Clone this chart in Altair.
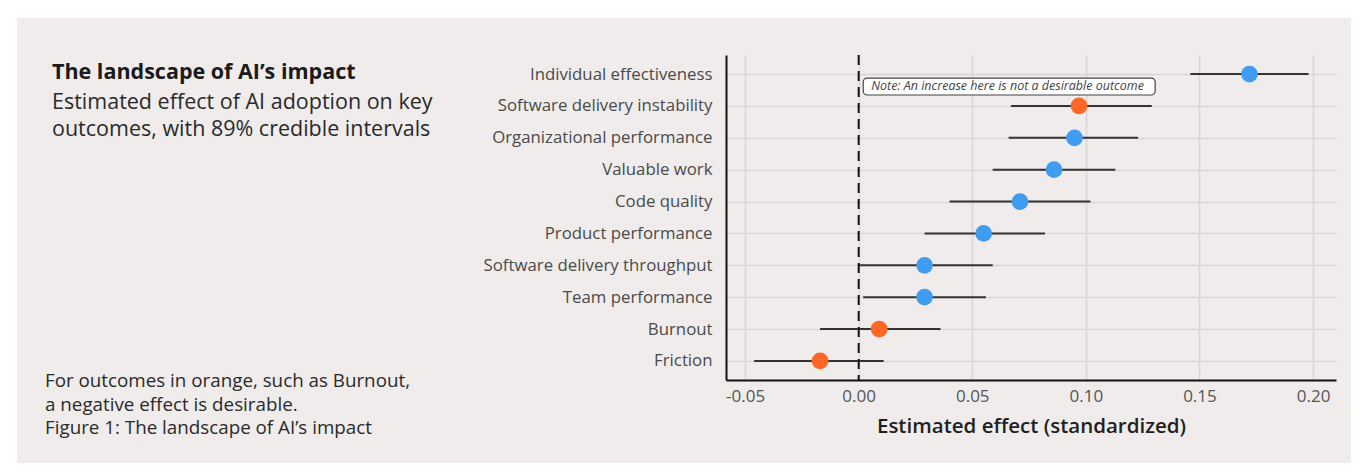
import altair as alt
import pandas as pd

# Outcomes, posterior means and 89% credible interval bounds
outcomes = [
    "Individual effectiveness",
    "Software delivery instability",
    "Organizational performance",
    "Valuable work",
    "Code quality",
    "Product performance",
    "Software delivery throughput",
    "Team performance",
    "Burnout",
    "Friction",
]
estimate = [0.172, 0.097, 0.095, 0.086, 0.071, 0.055, 0.029, 0.029, 0.009, -0.017]
lower = [0.146, 0.067, 0.066, 0.059, 0.040, 0.029, 0.000, 0.002, -0.017, -0.046]
upper = [0.198, 0.129, 0.123, 0.113, 0.102, 0.082, 0.059, 0.056, 0.036, 0.011]
# "higher" = an increase is good, "lower" = a decrease is good
desired = ["higher", "lower", "higher", "higher", "higher",
           "higher", "higher", "higher", "lower", "lower"]
x_ticks = [-0.05, 0.0, 0.05, 0.10, 0.15, 0.20]

note_text = "Note: An increase here is not a desirable outcome"
title_lines = ["The landscape of AI\u2019s impact"]
subtitle_lines = ["Estimated effect of AI adoption on key",
                  "outcomes, with 89% credible intervals"]
footer_lines = ["For outcomes in orange, such as Burnout,",
                "a negative effect is desirable.",
                "Figure 1: The landscape of AI\u2019s impact"]

df = pd.DataFrame({"outcome": outcomes, "estimate": estimate,
                   "lower": lower, "upper": upper, "desired": desired})

FONT = "Open Sans"
BG = "#efeceb"
W, H = 610, 325

x_scale = alt.Scale(domain=[-0.0584, 0.2101], nice=False, zero=False)
y_scale = alt.Scale(type="point", domain=outcomes, padding=0.6)

x_axis = alt.Axis(values=x_ticks, title="Estimated effect (standardized)",
                  labelExpr="replace(format(datum.value, '.2f'), '\u2212', '-')",
                  grid=True, ticks=False, labelPadding=8, titlePadding=12,
                  labelFontSize=17, labelColor="#555555",
                  titleFontSize=20.5, titleFontWeight=600, titleColor="#1f1f1f",
                  domainColor="#111111", domainWidth=2,
                  gridColor="#d8d5d4", gridWidth=1.5)
y_enc = alt.Y(
    "outcome:N", scale=y_scale, sort=outcomes,
    axis=alt.Axis(title=None, grid=True, ticks=False, labelPadding=14,
                  labelLimit=0, labelFontSize=16.8, labelColor="#4a4a4a",
                  domainColor="#111111", domainWidth=2,
                  gridColor="#d8d5d4", gridWidth=1.5),
)

base = alt.Chart(df)

intervals = base.mark_rule(color="#333333", strokeWidth=2).encode(
    x=alt.X("lower:Q", scale=x_scale, axis=x_axis), x2="upper:Q", y=y_enc
)

points = base.mark_circle(size=280, opacity=1).encode(
    x=alt.X("estimate:Q", scale=x_scale, axis=x_axis), y=y_enc,
    color=alt.Color("desired:N",
                    scale=alt.Scale(domain=["higher", "lower"],
                                    range=["#3f9cf1", "#ff6726"]),
                    legend=None),
)

zero_line = alt.Chart(df.head(1)).mark_rule(
    color="#111111", strokeWidth=2, strokeDash=[10, 6]
).encode(x=alt.datum(0.0))

# Annotation box between the first two rows
note_box = alt.Chart(df.head(1)).mark_rect(
    fill="white", stroke="#444444", strokeWidth=1.2, cornerRadius=4,
    yOffset=4, y2Offset=-11
).encode(
    x=alt.datum(0.002), x2=alt.datum(0.1305),
    y=alt.datum(outcomes[0]), y2=alt.datum(outcomes[1]),
)
note_label = alt.Chart(df.head(1)).mark_text(
    text=note_text, align="left", baseline="middle", fontStyle="italic",
    fontSize=12.5, color="#444444", font=FONT, yOffset=12
).encode(x=alt.datum(0.0055), y=alt.datum(outcomes[0]))


def text_block(lines, x, y0, step, size, weight, color):
    layers = []
    for i, line in enumerate(lines):
        layers.append(
            alt.Chart(df.head(1)).mark_text(
                text=line, align="left", baseline="middle", fontSize=size,
                fontWeight=weight, color=color, font=FONT, clip=False
            ).encode(x=alt.value(x), y=alt.value(y0 + i * step))
        )
    return layers


# White page margins around the grey panel
def strip(x1, x2, y1, y2):
    return alt.Chart(df.head(1)).mark_rect(color="white", clip=False).encode(
        x=alt.value(x1), x2=alt.value(x2), y=alt.value(y1), y2=alt.value(y2)
    )


margins = [
    strip(-726, -709, -55, 420),
    strip(625, 641, -55, 420),
    strip(-726, 641, -55, -37),
    strip(-726, 641, 408, 420),
]

texts = (
    text_block(title_lines, -674, 18, 27, 21.5, "bold", "#1a1a1a")
    + text_block(subtitle_lines, -674, 48, 27, 21.5, "normal", "#2a2a2a")
    + text_block(footer_lines, -681, 326, 23.5, 18.8, "normal", "#2a2a2a")
)

chart = alt.layer(
    *margins, intervals, zero_line, points, note_box, note_label, *texts
).properties(
    width=W, height=H, background=BG,
    padding={"left": 726, "top": 55, "right": 31, "bottom": 95},
    autosize=alt.AutoSizeParams(type="none"),
).configure_view(stroke=None).configure_axis(
    labelFont=FONT, titleFont=FONT
)

chart.save("out.html", embed_options={"renderer": "svg", "actions": False})
